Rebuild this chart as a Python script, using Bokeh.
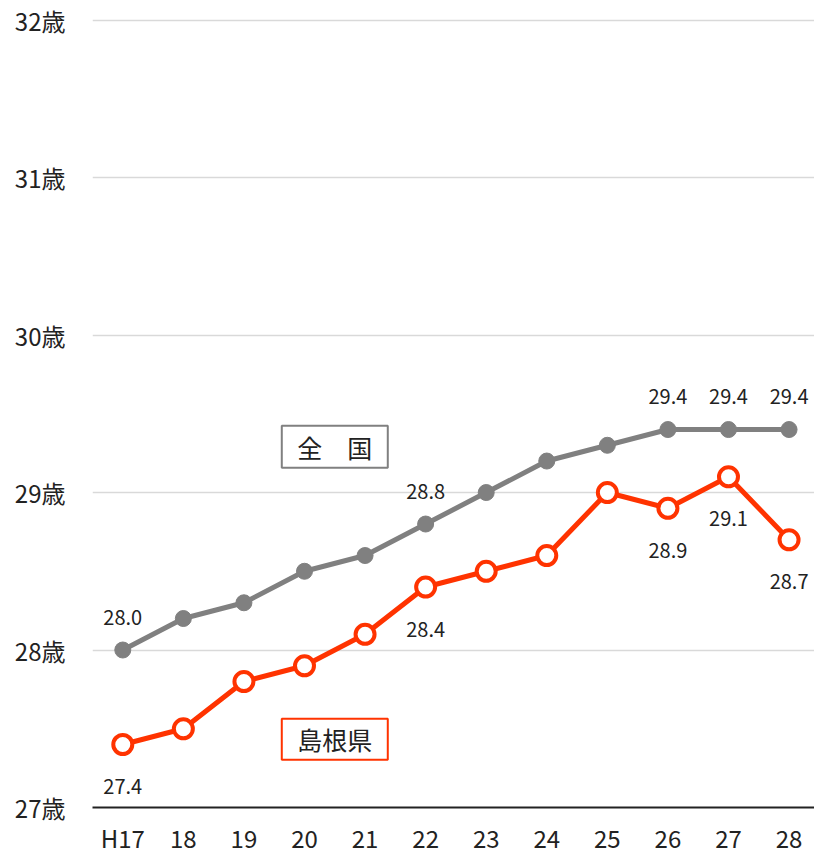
from bokeh.plotting import figure
from bokeh.models import FixedTicker, ColumnDataSource, LabelSet
from bokeh.core.properties import value
from bokeh.embed import file_html
from bokeh.resources import INLINE

categories = ["H17", "18", "19", "20", "21", "22", "23", "24", "25", "26", "27", "28"]
zenkoku = [28.0, 28.2, 28.3, 28.5, 28.6, 28.8, 29.0, 29.2, 29.3, 29.4, 29.4, 29.4]
shimane = [27.4, 27.5, 27.8, 27.9, 28.1, 28.4, 28.5, 28.6, 29.0, 28.9, 29.1, 28.7]
y_ticks = [27, 28, 29, 30, 31, 32]
y_tick_labels = ["27歳", "28歳", "29歳", "30歳", "31歳", "32歳"]
zenkoku_label_idx = [0, 5, 9, 10, 11]
shimane_label_idx = [0, 5, 9, 10, 11]

GRAY = "#808080"
RED = "#FF3300"
FONT = "Noto Sans CJK JP"

xs = list(range(len(categories)))

p = figure(width=814, height=857, output_backend="svg", toolbar_location=None,
           x_range=(-0.5, 11.42), y_range=(y_ticks[0], y_ticks[-1] + 0.01),
           min_border_left=92, min_border_right=0, min_border_top=18, min_border_bottom=48)
p.outline_line_color = None
p.background_fill_color = "white"

p.xgrid.grid_line_color = None
p.ygrid.grid_line_color = "#d9d9d9"
p.ygrid.grid_line_width = 1.5
p.ygrid.ticker = FixedTicker(ticks=y_ticks)

p.yaxis.ticker = FixedTicker(ticks=y_ticks)
p.yaxis.major_label_overrides = {t: l for t, l in zip(y_ticks, y_tick_labels)}
p.yaxis.axis_line_color = None
p.yaxis.major_tick_line_color = None
p.yaxis.minor_tick_line_color = None
p.yaxis.major_tick_out = 0
p.yaxis.major_tick_in = 0
p.yaxis.minor_tick_out = 0
p.yaxis.major_label_standoff = 27
p.yaxis.major_label_text_font = FONT
p.yaxis.major_label_text_font_size = "24px"
p.yaxis.major_label_text_color = "#222222"

p.xaxis.ticker = FixedTicker(ticks=xs)
p.xaxis.major_label_overrides = {i: c for i, c in enumerate(categories)}
p.xaxis.axis_line_color = "#222222"
p.xaxis.axis_line_width = 2
p.xaxis.major_tick_line_color = None
p.xaxis.minor_tick_line_color = None
p.xaxis.major_tick_out = 0
p.xaxis.major_tick_in = 0
p.xaxis.minor_tick_out = 0
p.xaxis.major_label_standoff = 12
p.xaxis.major_label_text_font = FONT
p.xaxis.major_label_text_font_size = "24px"
p.xaxis.major_label_text_color = "#222222"

# 全国
p.line(xs, zenkoku, line_color=GRAY, line_width=5)
p.scatter(xs, zenkoku, size=16, fill_color=GRAY, line_color=GRAY)

# 島根県
p.line(xs, shimane, line_color=RED, line_width=5)
p.scatter(xs, shimane, size=19, fill_color="white", line_color=RED, line_width=4)

zsrc = ColumnDataSource(dict(x=[xs[i] for i in zenkoku_label_idx],
                             y=[zenkoku[i] for i in zenkoku_label_idx],
                             t=["%.1f" % zenkoku[i] for i in zenkoku_label_idx]))
p.add_layout(LabelSet(x="x", y="y", text="t", source=zsrc, y_offset=33,
                      text_align="center", text_baseline="middle",
                      text_font=value(FONT), text_font_size="20px", text_color="#222222"))
ssrc = ColumnDataSource(dict(x=[xs[i] for i in shimane_label_idx],
                             y=[shimane[i] for i in shimane_label_idx],
                             t=["%.1f" % shimane[i] for i in shimane_label_idx]))
p.add_layout(LabelSet(x="x", y="y", text="t", source=ssrc, y_offset=-42,
                      text_align="center", text_baseline="middle",
                      text_font=value(FONT), text_font_size="20px", text_color="#222222"))

# legend boxes
p.rect(x=[3.5], y=[29.29], width=106, height=42, width_units="screen", height_units="screen",
       fill_color="white", line_color=GRAY, line_width=2)
p.text(x=[3.5], y=[29.29], text=["全　国"], text_align="center", text_baseline="middle",
       text_font=value(FONT), text_font_size="25px", text_color="#222222")
p.rect(x=[3.5], y=[27.434], width=106, height=41, width_units="screen", height_units="screen",
       fill_color="white", line_color=RED, line_width=2)
p.text(x=[3.5], y=[27.434], text=["島根県"], text_align="center", text_baseline="middle",
       text_font=value(FONT), text_font_size="25px", text_color="#222222")

open("out.html", "w").write(file_html(p, INLINE))
